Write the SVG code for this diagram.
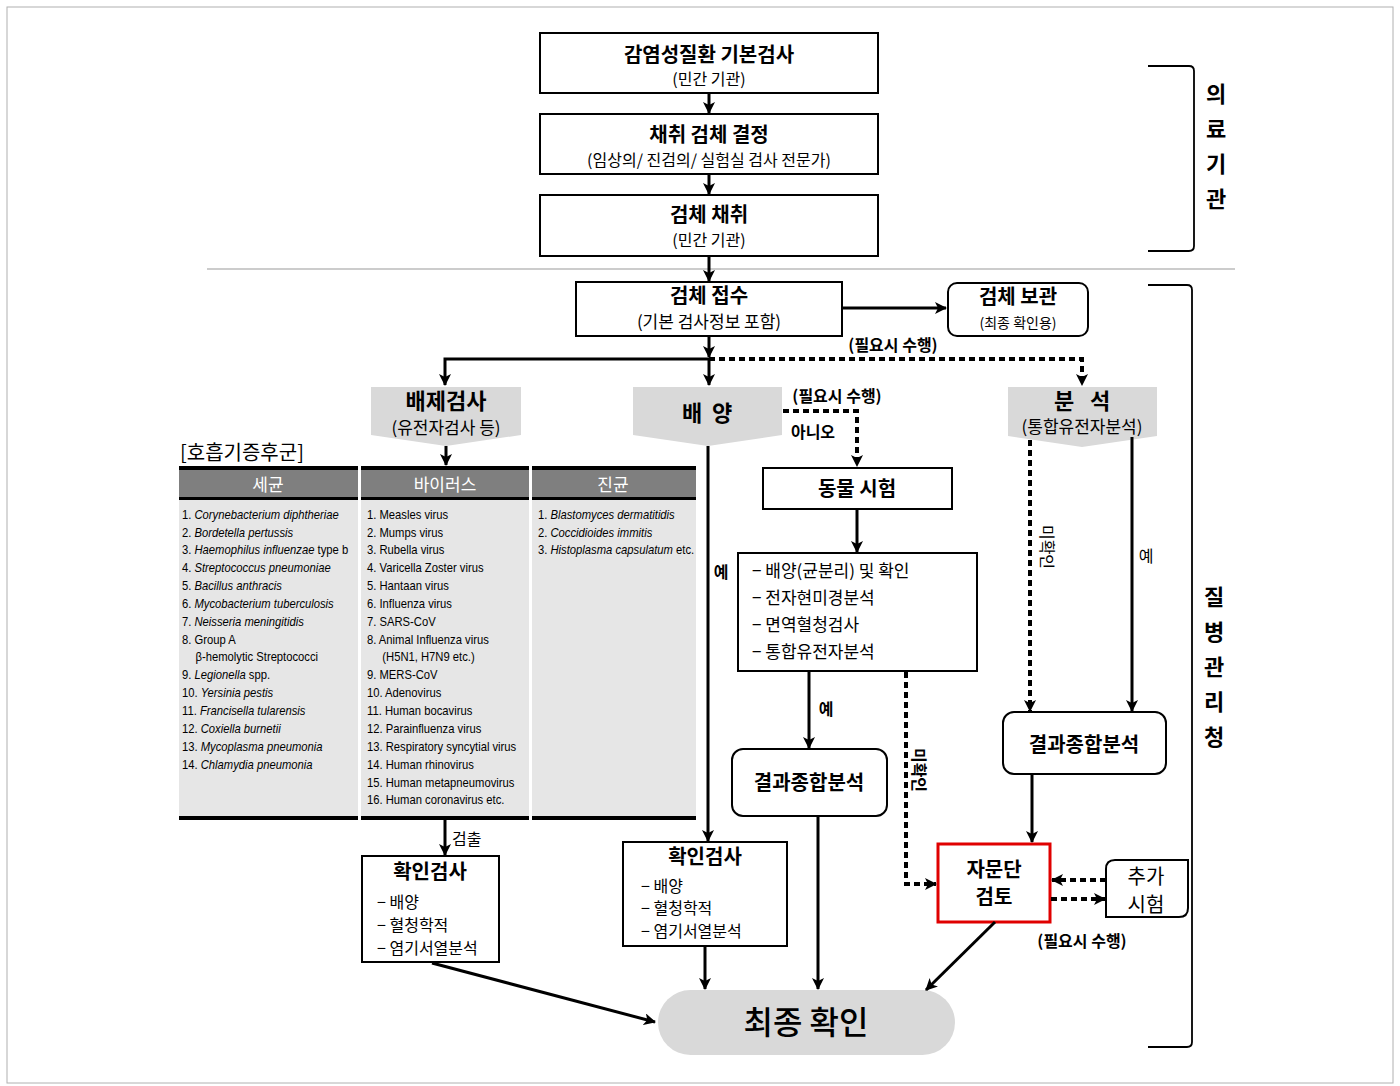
<svg xmlns="http://www.w3.org/2000/svg" width="1400" height="1086" viewBox="0 0 1400 1086">
<style>
text{font-family:"Noto Sans CJK KR","Noto Sans",sans-serif;fill:#000}
.t{font-size:20px;font-weight:bold;text-anchor:middle}
.s{font-size:16px;text-anchor:middle}
.box{fill:#fff;stroke:#000;stroke-width:2}
.rbox{fill:#fff;stroke:#000;stroke-width:2}
.pent{fill:#d9d9d9}
.c{fill:none;stroke:#000;stroke-width:3}
.d{fill:none;stroke:#000;stroke-width:4;stroke-dasharray:6 4}
.lat{font-family:"Liberation Sans",Arial,sans-serif;font-size:12.5px}
.it{font-style:italic}
.hd{fill:#fff;font-size:17px;text-anchor:middle}
.li{font-size:17px}
.lc{font-size:16px}
.lb{font-size:16px;font-weight:bold}
.vt{font-size:22px;font-weight:bold;text-anchor:middle}
.brk{fill:none;stroke:#000;stroke-width:1.8}
</style>
<defs>
<marker id="ah" viewBox="0 0 12 12" refX="11" refY="6" markerWidth="12" markerHeight="12" markerUnits="userSpaceOnUse" orient="auto">
<path d="M0,0 L12,6 L0,12 L3,6 z" fill="#000"/>
</marker>
</defs>

<rect x="7" y="7" width="1386" height="1076" fill="none" stroke="#b0b0b0" stroke-width="1"/>
<line x1="207" y1="269" x2="1235" y2="269" stroke="#999" stroke-width="1.2"/>

<g id="bracket-top">
<path class="brk" d="M1148,66 H1189 Q1194,66 1194,71 V246 Q1194,251 1189,251 H1148"/>
<text class="vt" x="1216" y="102">의</text>
<text class="vt" x="1216" y="137">료</text>
<text class="vt" x="1216" y="172">기</text>
<text class="vt" x="1216" y="207">관</text>
</g>
<g id="bracket-bottom">
<path class="brk" d="M1148,285 H1187 Q1192,285 1192,290 V1042 Q1192,1047 1187,1047 H1148"/>
<text class="vt" x="1214" y="605">질</text>
<text class="vt" x="1214" y="640">병</text>
<text class="vt" x="1214" y="675">관</text>
<text class="vt" x="1214" y="710">리</text>
<text class="vt" x="1214" y="745">청</text>
</g>

<g id="n-basic">
<rect class="box" x="540" y="33" width="338" height="60"/>
<text class="t" x="709" y="62">감염성질환 기본검사</text>
<text class="s" x="709" y="85">(민간 기관)</text>
</g>
<g id="n-decide">
<rect class="box" x="540" y="114" width="338" height="60"/>
<text class="t" x="709" y="142">채취 검체 결정</text>
<text class="s" x="709" y="166">(임상의/ 진검의/ 실험실 검사 전문가)</text>
</g>
<g id="n-collect">
<rect class="box" x="540" y="195" width="338" height="61"/>
<text class="t" x="709" y="222">검체 채취</text>
<text class="s" x="709" y="246">(민간 기관)</text>
</g>
<g id="n-receive">
<rect class="box" x="576" y="282" width="266" height="54"/>
<text class="t" x="709" y="303">검체 접수</text>
<text class="s" x="709" y="328" style="font-size:17px">(기본 검사정보 포함)</text>
</g>
<g id="n-store">
<rect class="rbox" x="948" y="283" width="140" height="53" rx="9"/>
<text class="t" x="1018" y="304">검체 보관</text>
<text class="s" x="1018" y="328" style="font-size:14px">(최종 확인용)</text>
</g>

<g id="n-exclude">
<path class="pent" d="M371,387 H521 V435 L446,446 L371,435 Z"/>
<text class="t" x="446" y="409" style="font-size:22px">배제검사</text>
<text class="s" x="446" y="434" style="font-size:17px">(유전자검사 등)</text>
</g>
<g id="n-culture">
<path class="pent" d="M633,387 H782 V435 L708,446 L633,435 Z"/>
<text class="t" x="692" y="421" style="font-size:22px">배</text>
<text class="t" x="722" y="421" style="font-size:22px">양</text>
</g>
<g id="n-analysis">
<path class="pent" d="M1008,387 H1157 V436 L1082,447 L1008,436 Z"/>
<text class="t" x="1064" y="409" style="font-size:22px">분</text>
<text class="t" x="1100" y="409" style="font-size:22px">석</text>
<text class="s" x="1082" y="433" style="font-size:17px">(통합유전자분석)</text>
</g>

<g id="n-table">
<text x="180" y="460" style="font-size:20px">[호흡기증후군]</text>
<rect x="179" y="466" width="179" height="4" fill="#000"/>
<rect x="361" y="466" width="168" height="4" fill="#000"/>
<rect x="532" y="466" width="164" height="4" fill="#000"/>
<rect x="179" y="470" width="179" height="27" fill="#7f7f7f"/>
<rect x="361" y="470" width="168" height="27" fill="#7f7f7f"/>
<rect x="532" y="470" width="164" height="27" fill="#7f7f7f"/>
<rect x="179" y="497" width="179" height="3" fill="#000"/>
<rect x="361" y="497" width="168" height="3" fill="#000"/>
<rect x="532" y="497" width="164" height="3" fill="#000"/>
<rect x="179" y="500" width="179" height="317" fill="#e6e6e6"/>
<rect x="361" y="500" width="168" height="317" fill="#e6e6e6"/>
<rect x="532" y="500" width="164" height="317" fill="#e6e6e6"/>
<rect x="179" y="816" width="179" height="4" fill="#000"/>
<rect x="361" y="816" width="168" height="4" fill="#000"/>
<rect x="532" y="816" width="164" height="4" fill="#000"/>
<text class="hd" x="268" y="491">세균</text>
<text class="hd" x="445" y="491">바이러스</text>
<text class="hd" x="613" y="491">진균</text>
<g class="lat" transform="translate(182,0) scale(0.9,1)">
<text class="lat" x="0" y="519">1. <tspan class="it">Corynebacterium  diphtheriae</tspan></text>
<text class="lat" x="0" y="537">2. <tspan class="it">Bordetella pertussis</tspan></text>
<text class="lat" x="0" y="554">3. <tspan class="it">Haemophilus influenzae</tspan> type b</text>
<text class="lat" x="0" y="572">4. <tspan class="it">Streptococcus pneumoniae</tspan></text>
<text class="lat" x="0" y="590">5. <tspan class="it">Bacillus anthracis</tspan></text>
<text class="lat" x="0" y="608">6. <tspan class="it">Mycobacterium tuberculosis</tspan></text>
<text class="lat" x="0" y="626">7. <tspan class="it">Neisseria meningitidis</tspan></text>
<text class="lat" x="0" y="644">8. Group A</text>
<text class="lat" x="15" y="661">β-hemolytic Streptococci</text>
<text class="lat" x="0" y="679">9. <tspan class="it">Legionella</tspan> spp.</text>
<text class="lat" x="0" y="697">10. <tspan class="it">Yersinia pestis</tspan></text>
<text class="lat" x="0" y="715">11. <tspan class="it">Francisella tularensis</tspan></text>
<text class="lat" x="0" y="733">12. <tspan class="it">Coxiella burnetii</tspan></text>
<text class="lat" x="0" y="751">13. <tspan class="it">Mycoplasma pneumonia</tspan></text>
<text class="lat" x="0" y="769">14. <tspan class="it">Chlamydia pneumonia</tspan></text>
</g>
<g class="lat" transform="translate(367,0) scale(0.9,1)">
<text class="lat" x="0" y="519">1. Measles virus</text>
<text class="lat" x="0" y="537">2. Mumps virus</text>
<text class="lat" x="0" y="554">3. Rubella virus</text>
<text class="lat" x="0" y="572">4. Varicella Zoster virus</text>
<text class="lat" x="0" y="590">5. Hantaan virus</text>
<text class="lat" x="0" y="608">6. Influenza virus</text>
<text class="lat" x="0" y="626">7. SARS-CoV</text>
<text class="lat" x="0" y="644">8. Animal Influenza virus</text>
<text class="lat" x="17" y="661">(H5N1, H7N9 etc.)</text>
<text class="lat" x="0" y="679">9. MERS-CoV</text>
<text class="lat" x="0" y="697">10. Adenovirus</text>
<text class="lat" x="0" y="715">11. Human bocavirus</text>
<text class="lat" x="0" y="733">12. Parainfluenza virus</text>
<text class="lat" x="0" y="751">13. Respiratory syncytial virus</text>
<text class="lat" x="0" y="769">14. Human rhinovirus</text>
<text class="lat" x="0" y="787">15. Human metapneumovirus</text>
<text class="lat" x="0" y="804">16. Human coronavirus etc.</text>
</g>
<g class="lat" transform="translate(538,0) scale(0.9,1)">
<text class="lat" x="0" y="519">1. <tspan class="it">Blastomyces dermatitidis</tspan></text>
<text class="lat" x="0" y="537">2. <tspan class="it">Coccidioides immitis</tspan></text>
<text class="lat" x="0" y="554">3. <tspan class="it">Histoplasma capsulatum</tspan> etc.</text>
</g>
</g>

<g id="n-animal">
<rect class="box" x="763" y="468" width="189" height="41"/>
<text class="t" x="857" y="496">동물 시험</text>
</g>
<g id="n-tests">
<rect class="box" x="738" y="553" width="239" height="118"/>
<text class="li" x="752" y="577">− 배양(균분리) 및 확인</text>
<text class="li" x="752" y="604">− 전자현미경분석</text>
<text class="li" x="752" y="631">− 면역혈청검사</text>
<text class="li" x="752" y="658">− 통합유전자분석</text>
</g>
<g id="n-result-left">
<rect class="rbox" x="732" y="749" width="155" height="67" rx="11"/>
<text class="t" x="809" y="790">결과종합분석</text>
</g>
<g id="n-result-right">
<rect class="rbox" x="1003" y="712" width="163" height="62" rx="11"/>
<text class="t" x="1084" y="752">결과종합분석</text>
</g>
<g id="n-advisory">
<rect x="938" y="844" width="112" height="78" fill="#fff" stroke="#e00000" stroke-width="3"/>
<text class="t" x="994" y="877">자문단</text>
<text class="t" x="994" y="904">검토</text>
</g>
<g id="n-extra">
<path d="M1106,917 V869 Q1106,860 1115,860 H1188 V908 Q1188,917 1179,917 Z" fill="#fff" stroke="#000" stroke-width="2"/>
<text x="1146" y="884" style="font-size:20px;text-anchor:middle">추가</text>
<text x="1146" y="912" style="font-size:20px;text-anchor:middle">시험</text>
</g>
<g id="n-confirm-left">
<rect class="box" x="362" y="856" width="137" height="106"/>
<text class="t" x="430" y="879">확인검사</text>
<text class="lc" x="377" y="908">− 배양</text>
<text class="lc" x="377" y="931">− 혈청학적</text>
<text class="lc" x="377" y="954">− 염기서열분석</text>
</g>
<g id="n-confirm-mid">
<rect class="box" x="623" y="842" width="164" height="104"/>
<text class="t" x="705" y="864">확인검사</text>
<text class="lc" x="641" y="892">− 배양</text>
<text class="lc" x="641" y="914">− 혈청학적</text>
<text class="lc" x="641" y="937">− 염기서열분석</text>
</g>
<g id="n-final">
<rect x="658" y="990" width="297" height="65" rx="32.5" fill="#d9d9d9"/>
<text x="806" y="1034" style="font-size:32px;font-weight:500;text-anchor:middle">최종 확인</text>
</g>

<g id="connectors">
<line class="c" x1="709" y1="93" x2="709" y2="113" marker-end="url(#ah)"/>
<line class="c" x1="709" y1="174" x2="709" y2="194" marker-end="url(#ah)"/>
<line class="c" x1="709" y1="256" x2="709" y2="281" marker-end="url(#ah)"/>
<line class="c" x1="842" y1="308" x2="946" y2="308" marker-end="url(#ah)"/>
<line class="c" x1="709" y1="336" x2="709" y2="357" marker-end="url(#ah)"/>
<path class="c" d="M709,359 H445 V385" marker-end="url(#ah)"/>
<line class="c" x1="709" y1="359" x2="709" y2="385" marker-end="url(#ah)"/>
<path class="d" d="M709,359 H1082 V385" marker-end="url(#ah)"/>
<line class="c" x1="446" y1="446" x2="446" y2="465" marker-end="url(#ah)"/>
<line class="c" x1="708" y1="446" x2="708" y2="841" marker-end="url(#ah)"/>
<path class="d" d="M783,411 H857 V466" marker-end="url(#ah)"/>
<line class="c" x1="857" y1="509" x2="857" y2="552" marker-end="url(#ah)"/>
<line class="c" x1="809" y1="671" x2="809" y2="748" marker-end="url(#ah)"/>
<path class="d" d="M906,672 V884 H936" marker-end="url(#ah)"/>
<line class="c" x1="818" y1="816" x2="818" y2="989" marker-end="url(#ah)"/>
<path class="d" d="M1030,440 V711" marker-end="url(#ah)"/>
<line class="c" x1="1132" y1="437" x2="1132" y2="711" marker-end="url(#ah)"/>
<line class="c" x1="1032" y1="774" x2="1032" y2="842" marker-end="url(#ah)"/>
<path class="d" d="M1106,880 H1052" marker-end="url(#ah)"/>
<path class="d" d="M1051,899 H1105" marker-end="url(#ah)"/>
<line class="c" x1="995" y1="922" x2="926" y2="990" marker-end="url(#ah)"/>
<line class="c" x1="445" y1="820" x2="445" y2="855" marker-end="url(#ah)"/>
<line class="c" x1="432" y1="963" x2="655" y2="1022" marker-end="url(#ah)"/>
<line class="c" x1="705" y1="946" x2="705" y2="989" marker-end="url(#ah)"/>
</g>

<g id="labels">
<text class="lb" x="893" y="351" text-anchor="middle">(필요시 수행)</text>
<text class="lb" x="837" y="402" text-anchor="middle">(필요시 수행)</text>
<text class="lb" x="813" y="438" text-anchor="middle">아니오</text>
<text class="lb" x="721" y="578" text-anchor="middle">예</text>
<text class="lb" x="826" y="715" text-anchor="middle">예</text>
<text x="1146" y="562" style="font-size:16px;text-anchor:middle">예</text>
<text x="452" y="845" style="font-size:16px">검출</text>
<text class="lb" x="1082" y="947" text-anchor="middle">(필요시 수행)</text>
<text class="lb" transform="translate(919,770) rotate(90)" text-anchor="middle" dy="6">미확인</text>
<text transform="translate(1047,547) rotate(90)" style="font-size:16px;text-anchor:middle" dy="6">미확인</text>
</g>
</svg>
